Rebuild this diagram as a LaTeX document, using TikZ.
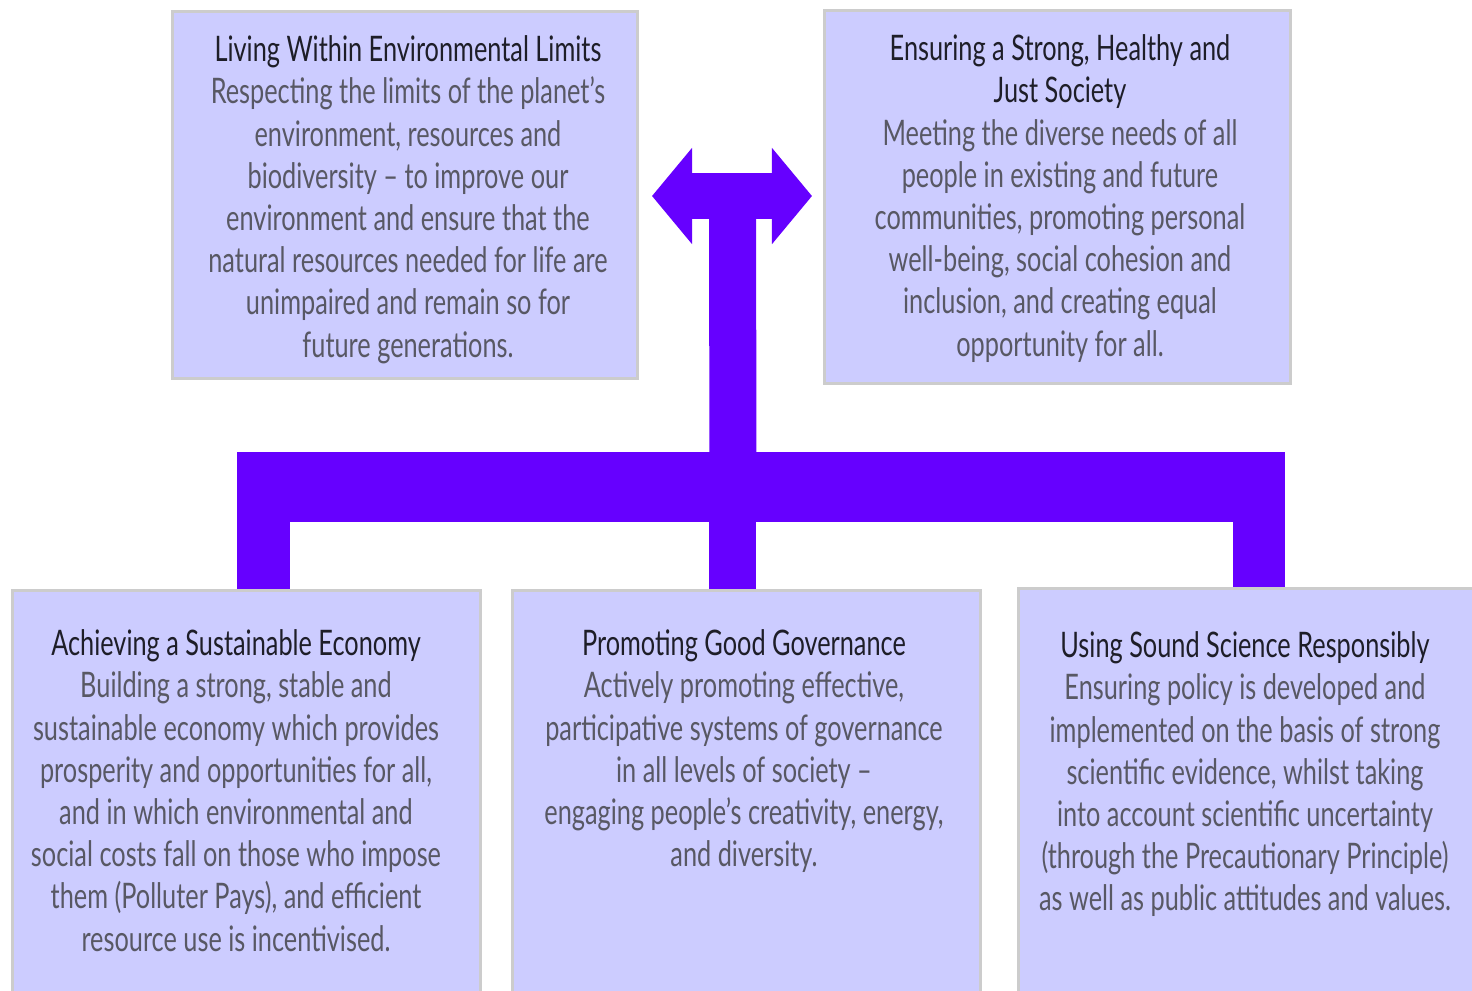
\documentclass[tikz,border=0pt]{standalone}
\usepackage{fontspec}
\setmainfont{Lato}[FakeStretch=0.72]
\usetikzlibrary{arrows.meta}
\definecolor{boxfill}{RGB}{204,204,255}
\definecolor{connviolet}{RGB}{102,0,255}
\definecolor{titlegrey}{RGB}{30,30,40}
\definecolor{bodygrey}{RGB}{88,88,100}
\newcommand{\boxhead}[1]{{\color{titlegrey}#1}}
\tikzset{
  pillar/.style 2 args={anchor=north west, fill=boxfill, draw=black!20, line width=0.8pt,
    minimum width=#1, minimum height=#2, inner sep=0pt},
  pillartext/.style={anchor=north, align=center, inner sep=0pt, text=bodygrey,
    font=\fontsize{10}{12}\selectfont},
  conn/.style={draw=connviolet, fill=connviolet}
}
\begin{document}
\begin{tikzpicture}[x=0.01cm, y=-0.01cm]
        \useasboundingbox (0,0) rectangle (1472,990);
        \clip (0,0) rectangle (1472,990);
        %% boxes
        \node[pillar={4.65cm}{3.67cm}] (env) at (171,10) {};
        \node[pillar={4.66cm}{3.73cm}] (soc) at (823,9) {};
        \node[pillar={4.68cm}{4.2cm}] (eco) at (11,589) {};
        \node[pillar={4.68cm}{4.2cm}] (gov) at (511,589) {};
        \node[pillar={4.70cm}{4.2cm}] (sci) at (1017,587) {};
        %% texts
        \node[pillartext, yshift=-0.25cm] (envtext) at (408,0 |- env.north) {\boxhead{Living Within Environmental Limits}\\
            Respecting the limits of the planet's\\ environment, resources and\\ biodiversity -- to improve our\\
            environment and ensure that the\\ natural resources needed for life are\\ unimpaired and remain so for\\ future generations.};
        \node[pillartext, yshift=-0.25cm] (soctext) at (1060,0 |- soc.north) {\boxhead{Ensuring a Strong, Healthy and}\\ \boxhead{Just Society}\\
            Meeting the diverse needs of all\\ people in existing and future\\ communities, promoting personal\\
            well-being, social cohesion and\\ inclusion, and creating equal\\ opportunity for all.};
        \node[pillartext, yshift=-0.40cm] (ecotext) at (236,0 |- eco.north) {\boxhead{Achieving a Sustainable Economy}\\
            Building a strong, stable and\\ sustainable economy which provides\\ prosperity and opportunities for all,\\
            and in which environmental and\\ social costs fall on those who impose\\ them (Polluter Pays), and efficient\\ resource use is incentivised.};
        \node[pillartext, yshift=-0.40cm] (govtext) at (744,0 |- gov.north) {\boxhead{Promoting Good Governance}\\
            Actively promoting effective,\\ participative systems of governance\\ in all levels of society --\\
            engaging people's creativity, energy,\\ and diversity.};
        \node[pillartext, yshift=-0.44cm] (scitext) at (1245,0 |- sci.north) {\boxhead{Using Sound Science Responsibly}\\
            Ensuring policy is developed and\\ implemented on the basis of strong\\ scientific evidence, whilst taking\\
            into account scientific uncertainty\\ (through the Precautionary Principle)\\ as well as public attitudes and values.};
        %% connector
        \coordinate (hub) at (733,487);
        \fill[connviolet] (237,452) rectangle (1285,522);
        \foreach \n/\x/\w in {eco/263.5/0.53, gov/732.5/0.47, sci/1259/0.52}
            \draw[connviolet, line width=\w cm] (\x,487) -- (\x,0 |- \n.north);
        \draw[connviolet, line width=0.47cm] (hub) -- (732.5,196);
        \draw[connviolet, line width=0.46cm, {Triangle[length=0.4cm,width=0.94cm]}-{Triangle[length=0.4cm,width=0.94cm]}]
            (652,196) -- (812,196);
    \end{tikzpicture}
\end{document}
